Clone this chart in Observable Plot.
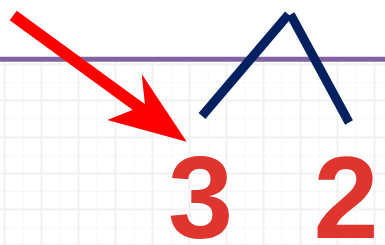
<!DOCTYPE html>
<html>
<head>
<meta charset="utf-8">
<script src="https://cdn.jsdelivr.net/npm/d3@7"></script>
<script src="https://cdn.jsdelivr.net/npm/@observablehq/plot@0.6"></script>
<style>
  html, body { margin: 0; padding: 0; background: #ffffff; }
  svg { display: block; }
</style>
</head>
<body>
<div id="chart"></div>
<script>
// Grid positions (in chart units, 0..385 by 0..245)
const gridMajorX = [4, 41, 78, 115, 152, 189, 226, 263, 300, 337, 374];
const gridMajorY = [64, 100, 137, 173, 209, 245];
const gridMinorX = [22.5, 59.5, 96.5, 133.5, 170.5, 207.5, 244.5, 281.5, 318.5, 355.5];
const gridMinorY = [82, 118.5, 155, 191, 227];
const baselineY = [58.8];

// Red arrow: shaft start / end and head outline (by y)
const arrowShaft = [{x1: 12.7, y1: 15, x2: 165, y2: 126}];
const headY  = [74, 105, 120, 141.7];
const headX1 = [141.7, 145, 107.3, 186.7];
const headX2 = [141.7, 162.3, 172.3, 186.7];

// Navy polyline (two strokes meeting at the peak)
const trendX1 = [201.5, 290];
const trendY1 = [115.5, 14];
const trendX2 = [288, 348.5];
const trendY2 = [14, 122];

// Big numbers
const labels = ["3", "2"];
const labelX = [200, 345.5];
const labelY = [237.5, 237.5];

const head = headY.map((y, i) => ({y, x1: headX1[i], x2: headX2[i]}));
const trend = trendX1.map((x, i) => ({x1: x, y1: trendY1[i], x2: trendX2[i], y2: trendY2[i]}));
const labelData = labels.map((t, i) => ({t, x: labelX[i], y: labelY[i]}));

const chart = Plot.plot({
  width: 385,
  height: 245,
  margin: 0,
  style: {background: "#ffffff", overflow: "hidden"},
  x: {domain: [0, 385], range: [0, 385], axis: null},
  y: {domain: [0, 245], range: [0, 245], axis: null},
  marks: [
    Plot.ruleX(gridMinorX, {y1: 62, y2: 245, stroke: "#f8f8f8", strokeWidth: 1}),
    Plot.ruleY(gridMinorY, {x1: 0, x2: 385, stroke: "#f8f8f8", strokeWidth: 1}),
    Plot.ruleX(gridMajorX, {y1: 62, y2: 245, stroke: "#f1f1f1", strokeWidth: 2}),
    Plot.ruleY(gridMajorY, {x1: 0, x2: 385, stroke: "#f1f1f1", strokeWidth: 2}),
    Plot.ruleY(baselineY, {x1: 0, x2: 385, stroke: "#8064a2", strokeWidth: 5}),
    Plot.link(trend, {x1: "x1", y1: "y1", x2: "x2", y2: "y2", stroke: "#002060", strokeWidth: 9, strokeLinecap: "butt"}),
    Plot.link(arrowShaft, {x1: "x1", y1: "y1", x2: "x2", y2: "y2", stroke: "#ff0000", strokeWidth: 12, strokeLinecap: "butt"}),
    Plot.areaX(head, {y: "y", x1: "x1", x2: "x2", fill: "#ff0000", curve: "linear"}),
    Plot.text(labelData, {x: "x", y: "y", text: "t", fill: "#e0342f", fontSize: 117, fontWeight: "bold",
      fontFamily: "'Liberation Sans', Arial, sans-serif", textAnchor: "middle", lineAnchor: "bottom"})
  ]
});
document.getElementById("chart").appendChild(chart);
</script>
</body>
</html>
